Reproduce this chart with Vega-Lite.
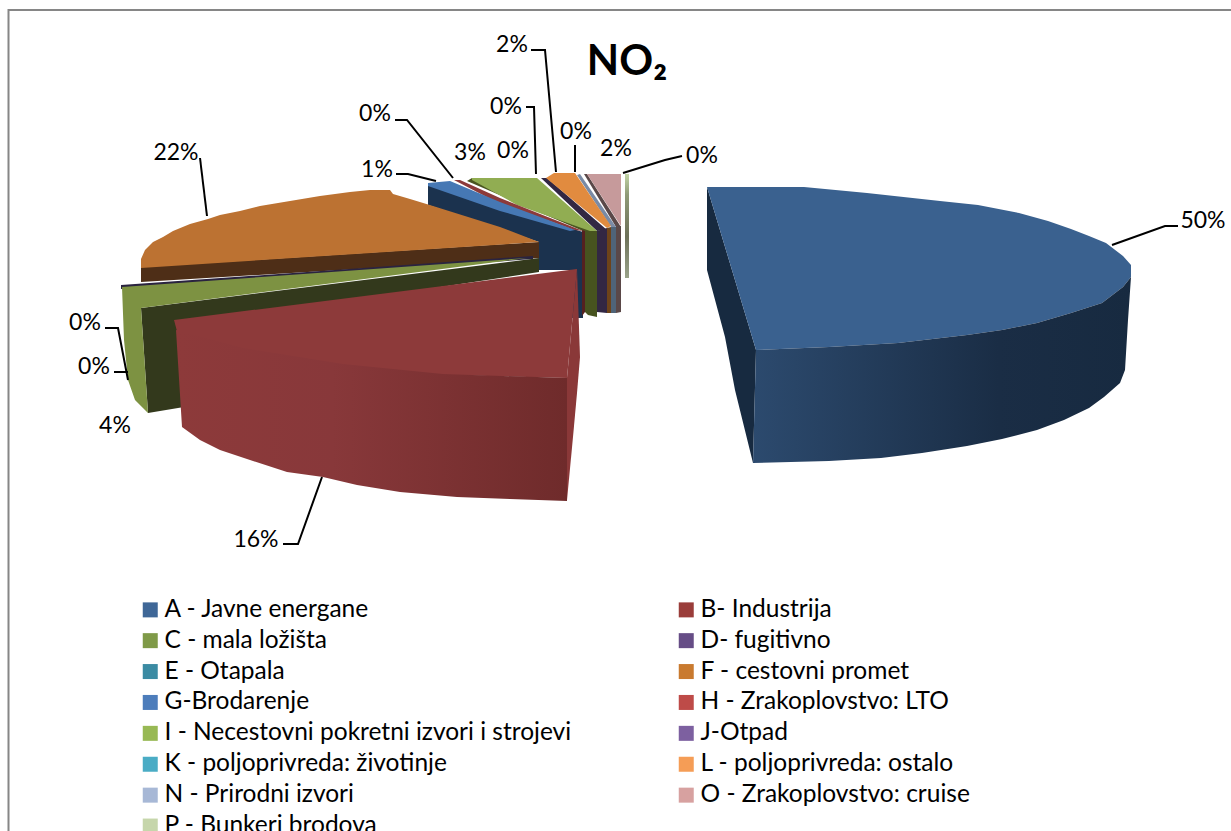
{"$schema":"https://vega.github.io/schema/vega-lite/v6.json","width":1231,"height":831,"padding":0,"autosize":{"type":"none"},"background":"white","config":{"view":{"stroke":null}},
"datasets":{
"sectors":[
{"sector":"A - Javne energane","pct":"50%","x":1203,"y":221},
{"sector":"B- Industrija","pct":"16%","x":256,"y":540},
{"sector":"C - mala ložišta","pct":"4%","x":115,"y":426},
{"sector":"D- fugitivno","pct":"0%","x":94,"y":367},
{"sector":"E - Otapala","pct":"0%","x":85,"y":323},
{"sector":"F - cestovni promet","pct":"22%","x":176,"y":153},
{"sector":"G-Brodarenje","pct":"1%","x":377,"y":170},
{"sector":"H - Zrakoplovstvo: LTO","pct":"0%","x":375,"y":114},
{"sector":"I - Necestovni pokretni izvori i strojevi","pct":"3%","x":470,"y":153},
{"sector":"J-Otpad","pct":"0%","x":513,"y":151},
{"sector":"K - poljoprivreda: životinje","pct":"0%","x":506,"y":107},
{"sector":"L - poljoprivreda: ostalo","pct":"2%","x":512,"y":45},
{"sector":"N - Prirodni izvori","pct":"0%","x":576,"y":132},
{"sector":"O - Zrakoplovstvo: cruise","pct":"2%","x":616,"y":149},
{"sector":"P - Bunkeri brodova","pct":"0%","x":702,"y":156}],
"parts":[
{"p":"a_left","i":1,"x":707,"y":187},{"p":"a_left","i":2,"x":756,"y":350},{"p":"a_left","i":3,"x":753,"y":463},{"p":"a_left","i":4,"x":735,"y":390},{"p":"a_left","i":5,"x":725,"y":337},{"p":"a_left","i":6,"x":707,"y":270},
{"p":"a_top","i":1,"x":707,"y":187},{"p":"a_top","i":2,"x":804,"y":187},{"p":"a_top","i":3,"x":867,"y":193},{"p":"a_top","i":4,"x":940,"y":201},{"p":"a_top","i":5,"x":978,"y":205},{"p":"a_top","i":6,"x":1019,"y":213},{"p":"a_top","i":7,"x":1048,"y":221},{"p":"a_top","i":8,"x":1071,"y":229},{"p":"a_top","i":9,"x":1089,"y":236},{"p":"a_top","i":10,"x":1106,"y":243},{"p":"a_top","i":11,"x":1123,"y":256},{"p":"a_top","i":12,"x":1131,"y":265},{"p":"a_top","i":13,"x":1131,"y":277},{"p":"a_top","i":14,"x":1123,"y":287},{"p":"a_top","i":15,"x":1102,"y":303},{"p":"a_top","i":16,"x":1071,"y":313},{"p":"a_top","i":17,"x":1037,"y":323},{"p":"a_top","i":18,"x":1002,"y":330},{"p":"a_top","i":19,"x":967,"y":335},{"p":"a_top","i":20,"x":898,"y":343},{"p":"a_top","i":21,"x":829,"y":347},{"p":"a_top","i":22,"x":756,"y":350},
{"p":"o_dark","i":1,"x":584,"y":174},{"p":"o_dark","i":2,"x":587,"y":174},{"p":"o_dark","i":3,"x":621,"y":227},{"p":"o_dark","i":4,"x":616,"y":227},
{"p":"o_top","i":1,"x":587,"y":174},{"p":"o_top","i":2,"x":621,"y":174},{"p":"o_top","i":3,"x":621,"y":226},
{"p":"n_top","i":1,"x":577,"y":175},{"p":"n_top","i":2,"x":580,"y":174},{"p":"n_top","i":3,"x":616,"y":227},{"p":"n_top","i":4,"x":611,"y":227},
{"p":"j_top","i":1,"x":541,"y":178},{"p":"j_top","i":2,"x":547,"y":178},{"p":"j_top","i":3,"x":607,"y":230},{"p":"j_top","i":4,"x":597,"y":231},
{"p":"l_top","i":1,"x":546,"y":178},{"p":"l_top","i":2,"x":554,"y":173},{"p":"l_top","i":3,"x":575,"y":173},{"p":"l_top","i":4,"x":611,"y":226},{"p":"l_top","i":5,"x":607,"y":228},
{"p":"i_dark","i":1,"x":467,"y":181},{"p":"i_dark","i":2,"x":472,"y":178},{"p":"i_dark","i":3,"x":593,"y":231},{"p":"i_dark","i":4,"x":583,"y":231},
{"p":"i_top","i":1,"x":472,"y":178},{"p":"i_top","i":2,"x":537,"y":178},{"p":"i_top","i":3,"x":597,"y":231},{"p":"i_top","i":4,"x":590,"y":231},{"p":"i_top","i":5,"x":517,"y":205},{"p":"i_top","i":6,"x":472,"y":180},
{"p":"navy","i":1,"x":428,"y":184},{"p":"navy","i":2,"x":583,"y":232},{"p":"navy","i":3,"x":583,"y":318},{"p":"navy","i":4,"x":570,"y":318},{"p":"navy","i":5,"x":570,"y":270},{"p":"navy","i":6,"x":539,"y":270},{"p":"navy","i":7,"x":539,"y":242},{"p":"navy","i":8,"x":428,"y":205},
{"p":"b_top","i":1,"x":454,"y":180},{"p":"b_top","i":2,"x":460,"y":180},{"p":"b_top","i":3,"x":500,"y":198},{"p":"b_top","i":4,"x":583,"y":231},{"p":"b_top","i":5,"x":575,"y":230},{"p":"b_top","i":6,"x":500,"y":204},
{"p":"g_top","i":1,"x":428,"y":183},{"p":"g_top","i":2,"x":450,"y":181},{"p":"g_top","i":3,"x":500,"y":202},{"p":"g_top","i":4,"x":575,"y":230},{"p":"g_top","i":5,"x":570,"y":231},{"p":"g_top","i":6,"x":500,"y":211},{"p":"g_top","i":7,"x":428,"y":186},
{"p":"s_red","i":1,"x":582,"y":230},{"p":"s_red","i":2,"x":585,"y":231},{"p":"s_red","i":3,"x":585,"y":312},{"p":"s_red","i":4,"x":582,"y":316},
{"p":"s_olive","i":1,"x":585,"y":231},{"p":"s_olive","i":2,"x":597,"y":231},{"p":"s_olive","i":3,"x":597,"y":317},{"p":"s_olive","i":4,"x":588,"y":315},{"p":"s_olive","i":5,"x":585,"y":312},
{"p":"s_purple","i":1,"x":597,"y":231},{"p":"s_purple","i":2,"x":607,"y":228},{"p":"s_purple","i":3,"x":607,"y":313},{"p":"s_purple","i":4,"x":597,"y":312},
{"p":"s_orange","i":1,"x":607,"y":228},{"p":"s_orange","i":2,"x":611,"y":227},{"p":"s_orange","i":3,"x":611,"y":313},{"p":"s_orange","i":4,"x":607,"y":313},
{"p":"s_slate","i":1,"x":611,"y":227},{"p":"s_slate","i":2,"x":616,"y":227},{"p":"s_slate","i":3,"x":616,"y":313},{"p":"s_slate","i":4,"x":611,"y":313},
{"p":"s_brown","i":1,"x":616,"y":227},{"p":"s_brown","i":2,"x":621,"y":226},{"p":"s_brown","i":3,"x":621,"y":312},{"p":"s_brown","i":4,"x":616,"y":313},
{"p":"f_side","i":1,"x":141,"y":267},{"p":"f_side","i":2,"x":539,"y":242},{"p":"f_side","i":3,"x":539,"y":258},{"p":"f_side","i":4,"x":141,"y":282},
{"p":"f_top","i":1,"x":141,"y":268},{"p":"f_top","i":2,"x":141,"y":259},{"p":"f_top","i":3,"x":145,"y":250},{"p":"f_top","i":4,"x":153,"y":242},{"p":"f_top","i":5,"x":163,"y":237},{"p":"f_top","i":6,"x":173,"y":231},{"p":"f_top","i":7,"x":190,"y":224},{"p":"f_top","i":8,"x":208,"y":219},{"p":"f_top","i":9,"x":220,"y":215},{"p":"f_top","i":10,"x":240,"y":211},{"p":"f_top","i":11,"x":260,"y":206},{"p":"f_top","i":12,"x":290,"y":201},{"p":"f_top","i":13,"x":320,"y":196},{"p":"f_top","i":14,"x":350,"y":192},{"p":"f_top","i":15,"x":370,"y":190},{"p":"f_top","i":16,"x":390,"y":190},{"p":"f_top","i":17,"x":393,"y":194},{"p":"f_top","i":18,"x":410,"y":199},{"p":"f_top","i":19,"x":433,"y":206},{"p":"f_top","i":20,"x":500,"y":227},{"p":"f_top","i":21,"x":539,"y":242},
{"p":"d_top","i":1,"x":121,"y":285},{"p":"d_top","i":2,"x":533,"y":256},{"p":"d_top","i":3,"x":533,"y":259},{"p":"d_top","i":4,"x":121,"y":289},
{"p":"c_dark","i":1,"x":141,"y":308},{"p":"c_dark","i":2,"x":539,"y":258},{"p":"c_dark","i":3,"x":539,"y":272},{"p":"c_dark","i":4,"x":190,"y":325},{"p":"c_dark","i":5,"x":190,"y":406},{"p":"c_dark","i":6,"x":148,"y":413},
{"p":"c_top","i":1,"x":122,"y":287},{"p":"c_top","i":2,"x":527,"y":258},{"p":"c_top","i":3,"x":141,"y":308},{"p":"c_top","i":4,"x":148,"y":413},{"p":"c_top","i":5,"x":135,"y":400},{"p":"c_top","i":6,"x":128,"y":380},{"p":"c_top","i":7,"x":124,"y":340},
{"p":"h_right","i":1,"x":577,"y":269},{"p":"h_right","i":2,"x":580,"y":357},{"p":"h_right","i":3,"x":577,"y":393},{"p":"h_right","i":4,"x":573,"y":437},{"p":"h_right","i":5,"x":567,"y":500},{"p":"h_right","i":6,"x":567,"y":378},
{"p":"h_top","i":1,"x":174,"y":320},{"p":"h_top","i":2,"x":577,"y":269},{"p":"h_top","i":3,"x":567,"y":378},{"p":"h_top","i":4,"x":443,"y":375},{"p":"h_top","i":5,"x":343,"y":365},{"p":"h_top","i":6,"x":243,"y":350},{"p":"h_top","i":7,"x":178,"y":335}],
"aFront":[{"i":1,"x":756,"y":350},{"i":2,"x":829,"y":347},{"i":3,"x":898,"y":343},{"i":4,"x":967,"y":335},{"i":5,"x":1002,"y":330},{"i":6,"x":1037,"y":323},{"i":7,"x":1071,"y":313},{"i":8,"x":1102,"y":303},{"i":9,"x":1123,"y":287},{"i":10,"x":1131,"y":277},{"i":11,"x":1128,"y":320},{"i":12,"x":1125,"y":370},{"i":13,"x":1120,"y":383},{"i":14,"x":1104,"y":397},{"i":15,"x":1089,"y":408},{"i":16,"x":1064,"y":420},{"i":17,"x":1037,"y":430},{"i":18,"x":1002,"y":439},{"i":19,"x":967,"y":446},{"i":20,"x":922,"y":453},{"i":21,"x":881,"y":458},{"i":22,"x":829,"y":461},{"i":23,"x":753,"y":463}],
"hFront":[{"i":1,"x":176,"y":330},{"i":2,"x":243,"y":348},{"i":3,"x":343,"y":364},{"i":4,"x":443,"y":374},{"i":5,"x":567,"y":378},{"i":6,"x":567,"y":501},{"i":7,"x":510,"y":499},{"i":8,"x":457,"y":497},{"i":9,"x":400,"y":492},{"i":10,"x":357,"y":485},{"i":11,"x":323,"y":477},{"i":12,"x":287,"y":472},{"i":13,"x":250,"y":460},{"i":14,"x":220,"y":450},{"i":15,"x":200,"y":440},{"i":16,"x":182,"y":427}],
"pBar":[{"i":1,"x":625,"y":174},{"i":2,"x":629,"y":174},{"i":3,"x":629,"y":278},{"i":4,"x":625,"y":278}],
"leaders":[
{"l":"a","i":1,"x":1112,"y":245},{"l":"a","i":2,"x":1165,"y":226},{"l":"a","i":3,"x":1178,"y":226},
{"l":"b","i":1,"x":322,"y":477},{"l":"b","i":2,"x":298,"y":544},{"l":"b","i":3,"x":283,"y":544},
{"l":"e","i":1,"x":105,"y":328},{"l":"e","i":2,"x":118,"y":328},{"l":"e","i":3,"x":128,"y":380},
{"l":"d","i":1,"x":114,"y":372},{"l":"d","i":2,"x":128,"y":372},
{"l":"f","i":1,"x":200,"y":158},{"l":"f","i":2,"x":207,"y":216},
{"l":"g","i":1,"x":396,"y":174},{"l":"g","i":2,"x":408,"y":174},{"l":"g","i":3,"x":436,"y":181},
{"l":"h","i":1,"x":395,"y":120},{"l":"h","i":2,"x":407,"y":120},{"l":"h","i":3,"x":453,"y":178},
{"l":"k","i":1,"x":526,"y":107},{"l":"k","i":2,"x":534,"y":107},{"l":"k","i":3,"x":536,"y":174},
{"l":"lz","i":1,"x":531,"y":50},{"l":"lz","i":2,"x":545,"y":50},{"l":"lz","i":3,"x":556,"y":172},
{"l":"n","i":1,"x":575,"y":145},{"l":"n","i":2,"x":575,"y":172},
{"l":"p","i":1,"x":682,"y":156},{"l":"p","i":2,"x":665,"y":160},{"l":"p","i":3,"x":623,"y":173}],
"frame":[{"i":1,"x":8.5,"y":831},{"i":2,"x":8.5,"y":10},{"i":3,"x":1231,"y":10}],
"titleRow":[{"t":"NO₂","x":627,"y":62}]
},
"encoding":{
"x":{"field":"x","type":"quantitative","scale":{"domain":[0,1231],"range":[0,1231],"nice":false,"zero":false},"axis":null},
"y":{"field":"y","type":"quantitative","scale":{"domain":[0,831],"range":[0,831],"nice":false,"zero":false},"axis":null}
},
"layer":[
{"data":{"name":"frame"},"mark":{"type":"line","stroke":"#868686","strokeWidth":2},"encoding":{"order":{"field":"i"}}},
{"data":{"name":"parts"},"mark":{"type":"line","strokeWidth":0},"encoding":{"order":{"field":"i"},"detail":{"field":"p"},
"fill":{"field":"p","type":"nominal","legend":null,"scale":{
"domain":["a_left","a_top","o_dark","o_top","n_top","j_top","l_top","i_dark","i_top","navy","b_top","g_top","s_red","s_olive","s_purple","s_orange","s_slate","s_brown","f_side","f_top","d_top","c_dark","c_top","h_right","h_top"],
"range":["#172a40","#3a618f","#5a4848","#c69a9b","#7a8ba5","#322743","#e18b3f","#4a5520","#91ad52","#1b324e","#8c3a3a","#4678b4","#552020","#47531f","#322743","#6d4319","#4f6478","#5a4848","#4e2e17","#bc7232","#2a2340","#33391c","#7d9242","#8a3838","#8d3a3a"]}}}},
{"data":{"name":"aFront"},"mark":{"type":"line","strokeWidth":0,"fill":{"gradient":"linear","x1":0,"x2":1,"y1":0,"y2":0,"stops":[{"offset":0,"color":"#2c4a6e"},{"offset":0.65,"color":"#1a2d45"},{"offset":1,"color":"#172a40"}]}},"encoding":{"order":{"field":"i"}}},
{"data":{"name":"hFront"},"mark":{"type":"line","strokeWidth":0,"fill":{"gradient":"linear","x1":0,"x2":1,"y1":0,"y2":0,"stops":[{"offset":0,"color":"#8d3a3a"},{"offset":0.4,"color":"#88383a"},{"offset":1,"color":"#6f2b2b"}]}},"encoding":{"order":{"field":"i"}}},
{"data":{"name":"pBar"},"mark":{"type":"line","strokeWidth":0,"fill":{"gradient":"linear","x1":0,"x2":0,"y1":0,"y2":1,"stops":[{"offset":0,"color":"#c3d5a6"},{"offset":0.2,"color":"#8f9a77"},{"offset":0.6,"color":"#6c7059"},{"offset":1,"color":"#9aa38a"}]}},"encoding":{"order":{"field":"i"}}},
{"data":{"name":"leaders"},"mark":{"type":"line","stroke":"#000000","strokeWidth":2},"encoding":{"order":{"field":"i"},"detail":{"field":"l"}}},
{"data":{"name":"sectors"},"mark":{"type":"square","filled":true,"opacity":0},"encoding":{
"color":{"field":"sector","type":"nominal","sort":null,"scale":{"domain":["A - Javne energane","B- Industrija","C - mala ložišta","D- fugitivno","E - Otapala","F - cestovni promet","G-Brodarenje","H - Zrakoplovstvo: LTO","I - Necestovni pokretni izvori i strojevi","J-Otpad","K - poljoprivreda: životinje","L - poljoprivreda: ostalo","N - Prirodni izvori","O - Zrakoplovstvo: cruise","P - Bunkeri brodova"],"range":["#3f6797","#9a3d3a","#7f9a48","#664d86","#3b8ba3","#c97a2f","#4d7dbb","#be4b48","#98b954","#7d60a0","#4aacc5","#f59d56","#a7b8d6","#d7a1a0","#c6d6ab"]},
"legend":{"title":null,"orient":"none","legendX":138,"legendY":597.5,"direction":"horizontal","columns":2,"columnPadding":102,"rowPadding":5.9,"symbolType":"square","symbolSize":225,"symbolOpacity":1,"symbolStrokeWidth":0,"labelFont":"Lato","labelFontSize":24.5,"labelColor":"#000000","labelOffset":2,"labelLimit":500,"gridAlign":"each"}}}},
{"data":{"name":"sectors"},"mark":{"type":"text","font":"Lato","fontSize":23,"color":"#000000","align":"center","baseline":"middle"},"encoding":{"text":{"field":"pct"}}},
{"data":{"name":"titleRow"},"mark":{"type":"text","font":"Lato","fontWeight":"bold","fontSize":42,"color":"#000000","align":"center","baseline":"middle"},"encoding":{"text":{"field":"t"}}}
]}
